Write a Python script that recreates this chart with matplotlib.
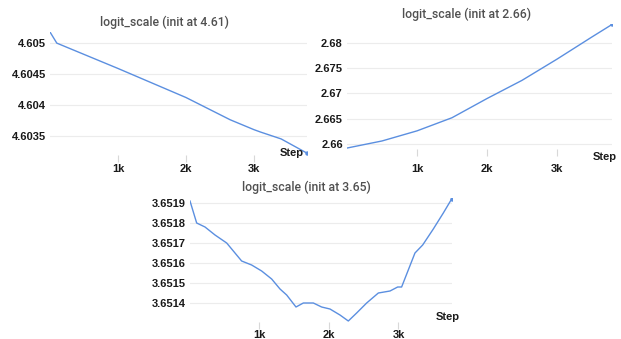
import matplotlib
matplotlib.use("Agg")
import matplotlib.pyplot as plt

# logit_scale runs, one panel per init value
steps_461 = [0, 100, 1000, 2000, 2650, 3000, 3100, 3400, 3780]
vals_461 = [4.60518, 4.60500, 4.60459, 4.60412, 4.60376, 4.60360, 4.60356, 4.60345, 4.60322]
yticks_461 = [4.605, 4.6045, 4.604, 4.6035]
ylabels_461 = ["4.605", "4.6045", "4.604", "4.6035"]

steps_266 = [0, 500, 1000, 1500, 2000, 2500, 3000, 3500, 3790]
vals_266 = [2.6592, 2.6606, 2.6626, 2.6652, 2.6690, 2.6726, 2.6768, 2.6812, 2.6837]
yticks_266 = [2.68, 2.675, 2.67, 2.665, 2.66]
ylabels_266 = ["2.68", "2.675", "2.67", "2.665", "2.66"]

steps_365 = [0, 96, 216, 360, 528, 743, 887, 1031, 1175, 1295, 1391, 1525, 1631,
             1775, 1894, 2014, 2158, 2278, 2398, 2542, 2710, 2878, 2988, 3045,
             3237, 3348, 3501, 3645, 3765]
vals_365 = [3.65191, 3.65180, 3.65178, 3.65174, 3.65170, 3.65161, 3.65159, 3.65156,
            3.65152, 3.65147, 3.65144, 3.65138, 3.65140, 3.65140, 3.65138, 3.65137,
            3.65134, 3.65131, 3.65135, 3.65140, 3.65145, 3.65146, 3.65148, 3.65148,
            3.65165, 3.65169, 3.65177, 3.65185, 3.65192]
yticks_365 = [3.6519, 3.6518, 3.6517, 3.6516, 3.6515, 3.6514]
ylabels_365 = ["3.6519", "3.6518", "3.6517", "3.6516", "3.6515", "3.6514"]

xticks = [1000, 2000, 3000]
xlabels = ["1k", "2k", "3k"]

LINE = "#5b8fe0"
W, H = 621, 339

fig = plt.figure(figsize=(W / 100, H / 100), dpi=100)


def panel(px_box, steps, vals, xmax, ylim, yticks, ylabels, title, title_xy,
          step_xy, xpad):
    left, top, right, bottom = px_box
    ax = fig.add_axes([left / W, 1 - bottom / H, (right - left) / W, (bottom - top) / H])
    ax.plot(steps, vals, color=LINE, lw=1.0)
    ax.plot(steps[-1], vals[-1], "o", color=LINE, ms=2.2)
    ax.set_xlim(0, xmax)
    ax.set_ylim(*ylim)
    ax.set_yticks(yticks)
    ax.set_yticklabels(ylabels)
    ax.set_xticks(xticks)
    ax.set_xticklabels(xlabels)
    for s in ax.spines.values():
        s.set_visible(False)
    ax.grid(axis="y", color="#ececec", lw=0.8)
    ax.tick_params(axis="y", length=0, pad=3)
    ax.tick_params(axis="x", length=5, width=0.8, color="#d8d8d8", pad=xpad)
    for lab in ax.get_xticklabels() + ax.get_yticklabels():
        lab.set_fontfamily("Liberation Sans")
        lab.set_fontweight("bold")
        lab.set_fontsize(8)
        lab.set_color("#1a1a1a")
    ax.text(*step_xy, "Step", transform=ax.transAxes, ha="center", va="center",
            family="Liberation Sans", fontweight="bold", fontsize=8, color="#1a1a1a")
    fig.text(title_xy[0] / W, 1 - title_xy[1] / H, title, ha="center", va="center",
             family="Roboto", fontweight="medium", fontsize=8.8, color="#505050")
    return ax


panel((50, 32, 307, 155), steps_461, vals_461, 3780, (4.60319, 4.60518),
      yticks_461, ylabels_461, "logit_scale (init at 4.61)", (165, 22),
      (0.942, 0.016), 1.2)
panel((347, 24, 612, 149), steps_266, vals_266, 3786, (2.65901, 2.68376),
      yticks_266, ylabels_266, "logit_scale (init at 2.66)", (467, 14),
      (0.974, -0.064), 5.5)
panel((190, 198, 452, 322), steps_365, vals_365, 3770, (3.651305, 3.651925),
      yticks_365, ylabels_365, "logit_scale (init at 3.65)", (306, 187),
      (0.985, 0.04), 0.4)

fig.savefig("out.png", dpi=100)
